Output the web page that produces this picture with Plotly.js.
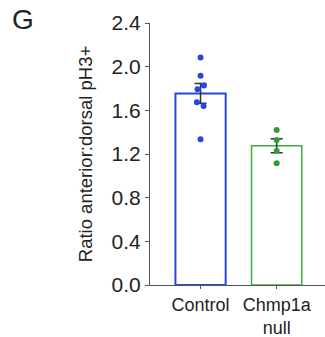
<!DOCTYPE html>
<html>
<head>
<meta charset="utf-8">
<script src="https://cdn.plot.ly/plotly-3.0.1.min.js"></script>
<style>html,body{margin:0;padding:0;background:#fff;}#chart{width:325px;height:337px;}</style>
</head>
<body>
<div id="chart"></div>
<script>
var categories = ["Control", "Chmp1a<br>null"];
var barMeans = [1.755, 1.275];
var barSem = [0.09, 0.064];
var controlPoints = [2.084, 1.916, 1.828, 1.792, 1.673, 1.639, 1.335];
var controlJitter = [0, 0, 0.045, -0.04, -0.048, 0.04, 0];
var nullPoints = [1.42, 1.328, 1.228, 1.115];
var nullJitter = [0, 0, 0, 0];
var yTicks = [0, 0.4, 0.8, 1.2, 1.6, 2.0, 2.4];

var blue = "#2448e0", green = "#2f9e34";

var traces = [
  {
    type: "bar", x: [0, 1], y: barMeans, width: 0.66,
    marker: {color: "rgba(255,255,255,1)", line: {color: [blue, "#3daa3d"], width: [2, 1.5]}},
    error_y: {type: "data", array: barSem, visible: true, color: "#333", thickness: 1.5, width: 6},
    hoverinfo: "none"
  },
  {
    type: "scatter", mode: "markers",
    x: controlPoints.map(function(v, i){ return 0 + controlJitter[i]; }), y: controlPoints,
    marker: {color: blue, size: 6}
  },
  {
    type: "scatter", mode: "markers",
    x: nullPoints.map(function(v, i){ return 1 + nullJitter[i]; }), y: nullPoints,
    marker: {color: green, size: 6}
  }
];

var layout = {
  width: 325, height: 337,
  margin: {l: 150, r: 0, t: 23, b: 52},
  paper_bgcolor: "#fff", plot_bgcolor: "#fff",
  showlegend: false,
  font: {family: "Liberation Sans, Arial, sans-serif", color: "#222"},
  xaxis: {
    range: [-0.664, 1.635], tickvals: [0, 1], ticktext: categories,
    showline: true, linecolor: "#555", linewidth: 1,
    ticks: "outside", ticklen: 3, tickcolor: "#555",
    showgrid: false, zeroline: false,
    tickfont: {size: 18, color: "#222"}
  },
  yaxis: {
    range: [0, 2.4], tickvals: yTicks, tickformat: ".1f",
    showline: true, linecolor: "#555", linewidth: 1,
    ticks: "outside", ticklen: 4, tickcolor: "#555",
    showgrid: false, zeroline: false,
    tickfont: {size: 21, color: "#222"},
    title: {text: "Ratio anterior:dorsal pH3+", font: {size: 18.5, color: "#222"}, standoff: 14}
  },
  annotations: [
    {text: "G", xref: "paper", yref: "paper", x: (22.5 - 150) / 175, y: 1 + (23 - 19.5) / 262,
     xanchor: "center", yanchor: "middle",
     showarrow: false, font: {size: 28, color: "#222"}}
  ]
};

Plotly.newPlot("chart", traces, layout, {displayModeBar: false, staticPlot: true});
</script>
</body>
</html>
